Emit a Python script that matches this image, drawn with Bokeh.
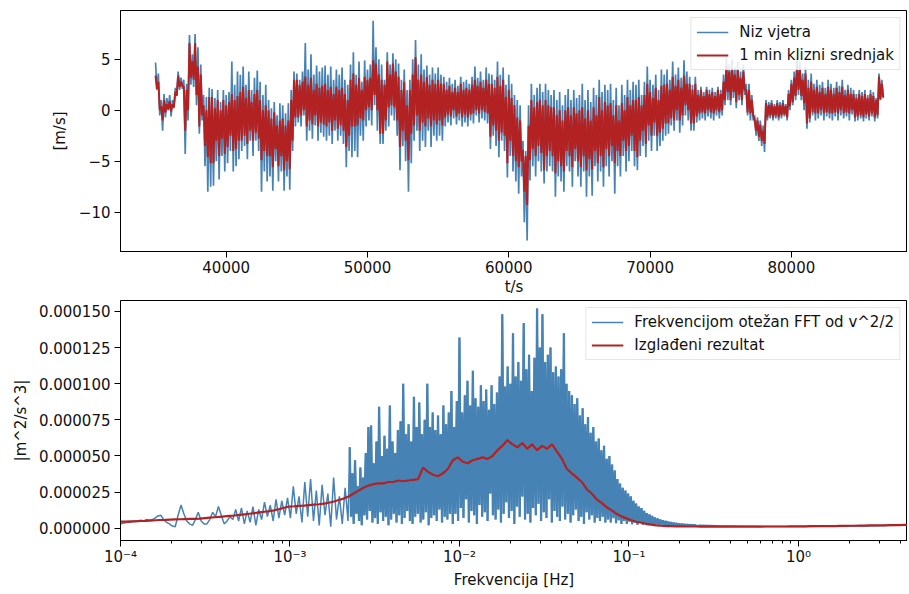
import numpy as np
from bokeh.plotting import figure
from bokeh.layouts import column
from bokeh.models import (Range1d, SingleIntervalTicker, FixedTicker,
                          CustomJSTickFormatter)
from bokeh.embed import file_html
from bokeh.resources import INLINE

# ---------------- time series (m/s), upper/lower swings every 200 s ----------------
t_start = 35000
t_step = 200
wind_hi = [
    4.7, 3.6, 1.0, 1.6, 1.2, 1.5, 1.0, 2.2, 3.8, 3.2,
    3.0, 2.6, 7.4, 5.5, 7.5, 6.2, 4.5, 1.5, 1.3, 2.2,
    2.1, 1.2, 2.0, 0.8, 2.0, 1.5, 1.8, 4.8, 2.5, 3.8,
    3.5, 4.3, 2.5, 3.8, 2.0, 3.2, 3.9, 2.8, 1.5, 2.5,
    1.0, 0.2, 0.8, -0.5, 0.7, 0.5, -0.3, 0.7, 2.0, 3.8,
    3.6, 3.0, 3.8, 6.6, 4.0, 5.5, 3.5, 4.4, 3.8, 4.2,
    4.4, 3.5, 4.3, 3.0, 4.0, 3.5, 4.2, 3.0, 2.5, 4.5,
    5.7, 3.5, 4.8, 2.8, 4.9, 4.0, 4.5, 8.8, 6.2, 5.0,
    4.5, 3.0, 5.7, 4.5, 5.6, 5.0, 4.6, 3.0, 4.0, 2.0,
    3.0, 5.0, 6.9, 4.5, 5.5, 4.0, 4.4, 3.5, 4.2, 3.6,
    4.2, 3.5, 3.3, 2.8, 3.2, 2.6, 3.0, 2.4, 3.3, 2.8,
    3.0, 2.6, 3.3, 4.3, 3.2, 3.8, 3.0, 4.2, 3.6, 3.5,
    3.0, 4.8, 3.5, 4.2, 2.5, 3.5, 2.6, 1.5, 1.0, 0.5,
    -3.0, -4.0, 0.5, 2.6, 1.5, 2.2, 2.6, 1.8, 2.6, 2.0,
    1.5, 2.0, 1.0, 1.8, 0.5, 1.5, 2.1, 1.0, 2.0, 1.2,
    1.5, 2.6, 1.0, 2.0, 0.8, 2.2, 1.5, 3.0, 1.8, 2.5,
    2.0, 2.6, 1.0, 2.2, 0.5, 2.5, 1.5, 3.0, 2.0, 2.8,
    2.5, 3.0, 1.5, 2.8, 4.3, 3.0, 2.5, 3.5, 2.0, 4.0,
    3.5, 4.0, 3.0, 4.8, 3.5, 4.2, 3.2, 4.9, 3.8, 3.3,
    2.5, 3.3, 2.0, 2.3, 1.8, 2.3, 2.0, 2.2, 1.8, 2.3,
    2.0, 3.5, 5.2, 4.5, 5.0, 4.2, 4.8, 3.8, 4.5, 2.6,
    2.6, 1.5, -0.5, -0.7, -1.0, -1.5, 1.0, 0.8, 1.0, 0.6,
    1.0, 0.8, 1.0, 0.6, 2.0, 3.0, 3.8, 5.2, 4.8, 3.6,
    4.3, 3.0, 3.6, 2.6, 3.0, 2.5, 2.8, 2.2, 3.0, 2.6,
    2.2, 2.8, 2.4, 3.0, 2.0, 2.5, 2.2, 2.0, 1.6, 2.0,
    1.8, 2.0, 1.5, 2.0, 1.8, 1.2, 3.6, 3.0,
]
wind_lo = [
    2.0, -0.5, -2.0, -0.7, 0.0, -0.6, 0.2, 1.5, 2.0, 2.1,
    -4.3, -1.0, 2.5, 2.3, 0.5, -2.3, -1.0, -5.5, -8.0, -7.5,
    -7.4, -5.0, -6.8, -4.5, -6.0, -5.2, -4.0, -6.0, -5.5, -4.8,
    -4.0, -3.5, -4.8, -3.0, -4.5, -3.0, -4.0, -8.0, -6.0, -7.0,
    -6.5, -7.9, -5.0, -7.0, -6.0, -7.9, -6.5, -7.8, -4.0, -1.6,
    -1.2, -1.6, -0.5, -3.0, -2.0, -2.8, -1.5, -3.0, -2.2, -2.6,
    -3.0, -2.5, -3.3, -2.0, -3.0, -2.5, -3.3, -5.6, -4.0, -4.6,
    -4.0, -4.6, -2.5, -3.0, -1.6, -1.0, -1.5, 0.5, -2.0, -3.3,
    -3.3, -2.0, -1.6, -0.5, -1.0, -2.5, -5.9, -3.5, -5.0, -8.0,
    -5.2, -3.0, -2.0, -4.0, -3.0, -3.6, -2.0, -3.6, -2.5, -3.0,
    -2.5, -3.0, -1.6, -1.2, -1.5, -0.8, -1.4, -1.0, -1.6, -1.2,
    -1.6, -1.0, -1.3, -0.5, -1.2, -0.8, -1.0, -1.3, -3.8, -2.5,
    -3.5, -4.6, -3.0, -4.0, -6.6, -4.5, -6.0, -7.0, -8.2, -6.5,
    -11.0, -12.8, -6.9, -5.5, -6.5, -5.0, -6.0, -7.2, -6.0, -5.5,
    -6.0, -8.5, -6.5, -7.0, -8.0, -5.5, -6.0, -7.5, -5.0, -6.5,
    -7.5, -6.0, -8.5, -6.5, -8.4, -5.5, -7.0, -6.0, -7.5, -5.5,
    -6.5, -5.0, -8.2, -5.5, -6.5, -4.5, -6.0, -5.0, -4.0, -5.5,
    -5.9, -4.5, -3.5, -4.6, -3.0, -4.0, -2.5, -4.0, -3.5, -3.0,
    -2.5, -2.3, -1.5, -2.0, -1.0, -2.2, -1.5, -0.5, -1.0, -2.0,
    -2.0, -1.2, -1.0, -0.8, -1.0, -0.6, -0.8, -1.0, -0.5, -0.8,
    -0.5, 0.5, 1.0, 0.5, 1.2, 0.2, 1.0, 0.5, 1.5, -0.5,
    -1.0, -1.0, -2.5, -3.0, -3.5, -4.1, -1.0, -0.8, -1.0, -0.8,
    -1.0, -0.8, -0.6, -1.0, 0.0, 0.5, 1.0, 1.5, 1.0, 0.0,
    -1.8, -1.2, -0.5, -1.0, -0.8, -0.5, -1.0, -0.6, -0.8, -1.0,
    -0.6, -1.0, -0.5, -0.8, -0.6, -1.0, -0.4, -1.1, -1.0, -0.8,
    -1.1, -0.8, -1.0, -0.6, -1.1, -0.8, 1.0, 1.2,
]
ma_hi = [
    3.4, 2.8, 0.4, 1.0, 0.6, 0.9, 0.6, 1.8, 3.4, 2.8,
    2.3, 2.0, 6.6, 4.8, 6.6, 4.3, 3.5, 0.5, 0.0, 1.3,
    1.3, 0.2, 1.0, 0.0, 1.0, 0.5, 0.8, 1.6, 1.0, 1.4,
    1.8, 2.3, 1.2, 2.0, 0.8, 1.6, 2.0, 1.0, 0.0, 0.5,
    0.0, -0.8, -0.2, -1.5, -1.0, -0.8, -1.5, -1.0, 1.0, 3.0,
    3.0, 2.5, 2.8, 3.3, 2.5, 3.2, 2.0, 2.6, 2.2, 2.4,
    2.6, 2.0, 2.3, 1.6, 2.3, 2.0, 2.2, 1.6, 1.0, 3.0,
    3.6, 2.5, 3.2, 2.0, 3.3, 3.0, 3.2, 4.9, 4.6, 3.5,
    3.0, 2.5, 4.8, 3.5, 4.6, 3.8, 3.3, 2.0, 2.8, 0.5,
    2.0, 3.5, 5.2, 3.0, 3.5, 2.8, 3.3, 2.5, 3.0, 2.6,
    3.0, 2.6, 2.6, 2.0, 2.4, 1.8, 2.2, 1.8, 2.6, 2.0,
    2.2, 2.0, 2.5, 3.0, 2.4, 2.8, 2.2, 3.0, 2.6, 2.6,
    2.2, 3.3, 2.4, 3.0, 1.3, 2.0, 1.2, 0.5, -0.7, -1.0,
    -3.9, -4.5, -1.5, 1.0, 0.3, 0.8, 1.0, 0.5, 1.0, 0.5,
    0.3, 0.3, -0.5, 0.0, -1.0, 0.0, 0.3, -0.5, 0.3, -0.3,
    0.0, 0.3, -0.8, 0.0, -1.0, 0.3, -0.5, 1.3, 0.0, 0.8,
    0.5, 0.7, -0.5, 0.5, -1.0, 0.7, 0.0, 1.3, 0.5, 1.0,
    1.0, 1.3, 0.5, 1.5, 2.6, 1.8, 1.2, 2.2, 1.0, 2.4,
    2.5, 2.6, 2.0, 3.3, 2.4, 3.0, 2.2, 3.4, 2.6, 2.6,
    2.0, 2.6, 1.5, 2.0, 1.4, 2.0, 1.6, 1.8, 1.4, 2.0,
    1.6, 2.8, 4.3, 3.8, 4.2, 3.5, 4.0, 3.2, 3.8, 2.0,
    2.0, 1.0, -1.0, -1.0, -1.4, -2.0, 0.7, 0.5, 0.7, 0.4,
    0.7, 0.5, 0.7, 0.4, 1.6, 2.6, 3.2, 4.3, 4.0, 3.0,
    3.6, 2.2, 2.8, 2.0, 2.3, 1.8, 2.2, 1.6, 2.3, 2.0,
    1.6, 2.2, 1.8, 2.3, 1.5, 2.0, 1.6, 1.6, 1.2, 1.6,
    1.4, 1.6, 1.2, 1.6, 1.4, 1.0, 3.3, 2.6,
]
ma_lo = [
    2.1, 0.0, -1.0, -0.2, 0.1, -0.1, 0.3, 1.4, 2.3, 2.4,
    -2.0, 0.0, 3.2, 3.0, 1.5, -1.6, -0.5, -3.5, -4.6, -5.2,
    -5.2, -3.0, -4.5, -2.8, -4.3, -3.6, -2.5, -4.0, -3.8, -3.0,
    -3.0, -2.5, -3.3, -2.0, -3.0, -2.2, -2.8, -4.9, -4.0, -4.5,
    -4.5, -5.6, -3.8, -5.5, -4.5, -5.9, -5.0, -5.8, -3.0, -0.7,
    -0.7, -0.5, 0.0, -1.6, -1.0, -1.4, -0.5, -1.6, -1.2, -1.4,
    -1.6, -1.2, -2.0, -1.0, -1.8, -1.5, -2.0, -3.6, -2.5, -1.6,
    -1.6, -1.5, -0.8, -1.0, 0.0, 0.3, 0.0, 1.5, 0.0, -2.3,
    -2.3, -1.0, 0.3, 0.5, 0.3, -1.0, -3.6, -2.0, -3.0, -4.9,
    -2.3, -1.5, -0.5, -2.0, -1.2, -1.6, -0.8, -1.6, -1.0, -1.4,
    -1.0, -1.5, -0.7, -0.4, -0.6, 0.0, -0.6, -0.3, -0.7, -0.4,
    -0.7, -0.4, -0.3, 0.0, -0.3, 0.0, -0.2, -0.3, -2.6, -1.5,
    -2.0, -3.0, -2.2, -2.5, -5.2, -3.0, -4.5, -5.0, -5.6, -5.0,
    -8.0, -9.3, -4.9, -3.8, -4.5, -3.5, -4.2, -5.9, -4.5, -4.0,
    -4.5, -6.2, -5.0, -5.5, -6.0, -4.0, -4.5, -5.6, -3.8, -5.0,
    -5.6, -4.5, -5.9, -4.8, -5.8, -4.0, -5.2, -4.5, -5.6, -3.8,
    -4.5, -3.5, -5.2, -4.0, -4.5, -3.0, -4.0, -3.5, -2.5, -4.0,
    -4.6, -3.0, -2.0, -3.3, -1.5, -2.5, -1.2, -2.5, -2.2, -1.8,
    -1.3, -1.3, -0.8, -1.0, 0.0, -1.0, -0.5, 0.5, 0.0, -1.3,
    -1.3, -0.6, -0.3, -0.2, -0.3, 0.0, -0.2, -0.3, 0.0, -0.2,
    0.0, 1.0, 1.8, 1.0, 1.8, 0.8, 1.5, 1.0, 2.0, -0.2,
    -0.3, -0.5, -2.0, -2.6, -3.0, -3.3, -0.7, -0.5, -0.7, -0.5,
    -0.7, -0.5, -0.4, -0.7, 0.4, 0.8, 1.4, 2.0, 1.4, 0.7,
    -1.3, -0.8, -0.2, -0.3, -0.3, 0.0, -0.3, -0.2, -0.3, -0.3,
    -0.2, -0.3, 0.0, -0.3, -0.2, -0.3, 0.0, -0.7, -0.6, -0.5,
    -0.7, -0.4, -0.6, -0.3, -0.7, -0.5, 1.1, 1.3,
]

# ---------------- spectrum (units of 1e-5 m^2/s^3) ----------------
spec_scale = 1e-5
spec_low_range = (1e-4, 2.2e-3)
spec_low = [
    0.3, 0.35, 0.4, 0.4, 0.45, 0.5, 0.5, 0.55, 0.5, 0.6,
    0.55, 0.6, 0.7, 0.85, 0.9, 0.6, 0.4, 0.3, 0.15, 0.1,
    0.9, 1.6, 1.0, 0.5, 0.3, 0.2, 0.6, 1.1, 0.5, 0.3,
    0.3, 0.6, 1.1, 0.8, 1.5, 0.9, 0.3, 0.5, 0.8, 0.6,
    1.3, 0.5, 1.4, 0.3, 1.2, 0.4, 1.5, 0.2, 1.3, 0.6,
    1.8, 0.8, 1.6, 0.5, 2.0, 0.7, 1.9, 0.9, 2.1, 0.7,
    2.9, 1.0, 2.2, 0.4, 3.2, 0.8, 3.4, 0.5, 2.6, 0.2,
    3.0, 0.9, 2.4, 0.1, 3.5, 0.6, 2.2, 0.3, 2.8, 0.5,
]
spec_mid_range = (2.25e-3, 0.25)
spec_peaks = [
    5.6, 3.8, 4.7, 2.9, 4.2, 3.5, 5.2, 7.0, 7.1, 4.5,
    6.0, 8.4, 5.0, 6.4, 5.5, 8.5, 6.0, 5.2, 6.8, 7.4,
    10.0, 6.5, 7.2, 6.0, 9.1, 7.0, 8.7, 6.5, 7.5, 10.0,
    7.0, 8.0, 6.8, 7.8, 6.5, 8.5, 7.2, 8.0, 9.5, 7.0,
    8.8, 13.2, 8.0, 9.2, 10.2, 8.5, 10.9, 9.0, 8.4, 9.9,
    8.8, 9.6, 8.2, 9.9, 8.6, 9.4, 10.5, 14.8, 9.8, 11.2,
    10.0, 13.5, 10.5, 11.5, 10.2, 14.2, 11.0, 12.0, 9.5, 11.8,
    15.2, 12.5, 14.8, 11.5, 12.0, 12.5, 10.8, 11.2, 10.5, 11.0,
    13.5, 10.0, 9.5, 9.2, 8.6, 9.0, 7.8, 8.3, 7.2, 7.7,
    6.6, 7.0, 6.0, 6.2, 5.4, 5.7, 4.8, 5.0, 4.4, 4.0,
    3.4, 3.1, 2.8, 2.6, 2.4, 2.2, 1.9, 1.7, 1.5, 1.4,
    1.2, 1.05, 0.95, 0.85, 0.75, 0.68, 0.6, 0.55, 0.5, 0.45,
    0.42, 0.38, 0.35, 0.32, 0.3, 0.28, 0.26, 0.25, 0.24, 0.22,
]
spec_troughs = [
    0.8, 0.3, 1.0, 0.5, 0.2, 0.9, 0.6, 1.2, 0.4, 0.7,
    0.3, 1.1, 0.5, 0.8, 0.2, 0.6, 1.0, 0.4, 0.9, 0.3,
    0.7, 1.2, 0.5, 0.3, 0.8, 1.0, 0.4, 0.6, 1.1, 0.2,
    0.7, 0.9, 0.5, 1.3, 0.4, 0.8, 0.6, 1.0, 0.3,
    1.0, 0.5, 1.4, 0.7, 2.0, 0.4, 1.2, 0.9, 0.3, 1.6,
    0.8, 1.1, 0.5, 2.4, 0.9, 0.6, 1.3, 0.4, 1.0, 1.8,
    0.7, 1.2, 0.3, 1.5, 0.8, 2.2, 0.6, 1.0, 0.4, 1.4,
    0.9, 1.7, 0.5, 1.1, 0.7, 2.0, 0.4, 1.2, 0.8, 0.5,
    1.5, 0.6, 1.0, 0.4, 0.9, 1.3, 0.5, 0.8, 0.3, 1.1,
    0.6, 0.9, 0.4, 0.7, 0.5, 0.8, 0.4,
    0.6, 0.4, 0.7, 0.35, 0.55, 0.3, 0.5, 0.3, 0.45, 0.28,
    0.4, 0.25, 0.38, 0.24, 0.33, 0.22, 0.3, 0.2, 0.28, 0.2,
    0.26, 0.18, 0.24, 0.18, 0.22, 0.17, 0.2, 0.17, 0.19, 0.16,
    0.18, 0.16, 0.17, 0.16,
]
spec_high_range = (0.26, 4.5)
spec_high = [0.2, 0.18, 0.16, 0.15, 0.14, 0.13, 0.12, 0.12, 0.12, 0.12,
             0.12, 0.13, 0.13, 0.14, 0.15, 0.16, 0.17, 0.19, 0.21, 0.23]

smooth_range = (1e-4, 4.5)
smooth = [
    0.45, 0.46, 0.47, 0.48, 0.5, 0.51, 0.53, 0.55, 0.57, 0.58,
    0.6, 0.61, 0.62, 0.63, 0.64, 0.65, 0.66, 0.7, 0.73, 0.76,
    0.79, 0.82, 0.85, 0.88, 0.92, 0.96, 1.0, 1.05, 1.1, 1.14,
    1.18, 1.24, 1.32, 1.42, 1.5, 1.52, 1.55, 1.57, 1.6, 1.63,
    1.66, 1.7, 1.76, 1.85, 1.95, 2.05, 2.2, 2.4, 2.6, 2.8,
    2.95, 3.05, 3.1, 3.1, 3.2, 3.2, 3.3, 3.25, 3.3, 3.35,
    3.4, 4.2, 3.9, 3.7, 3.6, 3.8, 4.1, 4.7, 4.9, 4.6,
    4.5, 4.7, 4.8, 4.9, 4.8, 5.0, 5.4, 5.7, 6.1, 5.8,
    5.6, 5.9, 5.5, 5.8, 5.4, 5.7, 5.5, 5.8, 5.3, 4.8,
    4.1, 3.8, 3.5, 3.2, 2.7, 2.4, 2.0, 1.75, 1.45, 1.25,
    1.0, 0.82, 0.68, 0.55, 0.45, 0.38, 0.3, 0.25, 0.2, 0.17,
    0.15, 0.14, 0.13, 0.13, 0.12, 0.12, 0.12, 0.11, 0.11, 0.11,
    0.11, 0.11, 0.11, 0.11, 0.11, 0.11, 0.11, 0.11, 0.11, 0.11,
    0.12, 0.12, 0.12, 0.12, 0.12, 0.13, 0.13, 0.13, 0.13, 0.14,
    0.14, 0.14, 0.15, 0.15, 0.15, 0.16, 0.16, 0.17, 0.17, 0.18,
    0.18, 0.19, 0.19, 0.2, 0.2, 0.21, 0.21, 0.22, 0.23, 0.24,
]

freq_ticks = [1e-4, 1e-3, 1e-2, 1e-1, 1e0]


def interleave(a, b):
    n = min(len(a), len(b))
    out = np.empty(2 * n)
    out[0::2] = a[:n]
    out[1::2] = b[:n]
    return out


# ---------------- build series ----------------
wind = interleave(wind_hi, wind_lo)
wind_ma = interleave(ma_hi, ma_lo)
t_blue = t_start + (t_step / 2) * np.arange(len(wind))
t_red = t_start + (t_step / 2) * np.arange(len(wind_ma))

mid = interleave(spec_peaks, spec_troughs)
f_low = np.geomspace(*spec_low_range, len(spec_low))
f_mid = np.geomspace(*spec_mid_range, len(mid))
f_high = np.geomspace(*spec_high_range, len(spec_high))
f_blue = np.concatenate([f_low, f_mid, f_high])
s_blue = np.concatenate([spec_low, mid, spec_high]) * spec_scale
f_red = np.geomspace(*smooth_range, len(smooth))
s_red = np.array(smooth) * spec_scale

BLUE = "#4682b4"
RED = "#b22222"
FONT = "DejaVu Sans"
TXT = "#111111"
FS = "15px"


def style(p):
    p.xgrid.visible = False
    p.ygrid.visible = False
    p.outline_line_color = "black"
    p.outline_line_alpha = 1
    p.outline_line_width = 1
    for ax in (p.xaxis[0], p.yaxis[0]):
        ax.axis_line_color = "black"
        ax.major_tick_line_color = "black"
        ax.minor_tick_line_color = "black"
        ax.major_tick_out = 6
        ax.major_tick_in = 0
        ax.minor_tick_out = 3
        ax.minor_tick_in = 0
        ax.major_label_text_font = FONT
        ax.major_label_text_font_size = FS
        ax.major_label_text_color = TXT
        ax.axis_label_text_font = FONT
        ax.axis_label_text_font_size = FS
        ax.axis_label_text_font_style = "normal"
        ax.axis_label_text_color = TXT
        ax.major_label_standoff = 4


def style_legend(p):
    lg = p.legend[0]
    lg.location = "top_right"
    lg.margin = 7
    lg.padding = 5
    lg.spacing = 5
    lg.label_text_font = FONT
    lg.label_text_font_size = FS
    lg.label_text_color = TXT
    lg.glyph_width = 32
    lg.glyph_height = 18
    lg.label_height = 18
    lg.label_standoff = 11
    lg.border_line_color = "#cccccc"
    lg.border_line_width = 1
    lg.background_fill_alpha = 0.85


W = 907

# ---------------- top figure ----------------
p1 = figure(width=W, height=300, output_backend="svg", toolbar_location=None,
            x_range=Range1d(32520, 88217), y_range=Range1d(-13.87, 9.8),
            min_border_left=120, min_border_right=0, min_border_top=10,
            min_border_bottom=49)
p1.line(t_blue, wind, color=BLUE, line_width=1.7, legend_label="Niz vjetra")
p1.line(t_red, wind_ma, color=RED, line_width=2.0, legend_label="1 min klizni srednjak")
style(p1)
p1.xaxis.ticker = SingleIntervalTicker(interval=10000, num_minor_ticks=0)
p1.yaxis.ticker = SingleIntervalTicker(interval=5, num_minor_ticks=0)
p1.yaxis.formatter = CustomJSTickFormatter(
    code="return tick < 0 ? '\u2212' + Math.abs(tick) : String(tick);")
p1.xaxis.axis_label = "t/s"
p1.yaxis.axis_label = "[m/s]"
p1.xaxis.major_label_standoff = 3
p1.xaxis.axis_label_standoff = 2
p1.yaxis.axis_label_standoff = 7
style_legend(p1)

# ---------------- bottom figure ----------------
p2 = figure(width=W, height=292, output_backend="svg", toolbar_location=None,
            x_axis_type="log", x_range=Range1d(1e-4, 4.4),
            y_range=Range1d(-8.5e-6, 1.576e-4),
            min_border_left=120, min_border_right=0, min_border_top=0,
            min_border_bottom=52)
p2.line(f_blue, s_blue, color=BLUE, line_width=1.5,
        legend_label="Frekvencijom otežan FFT od v^2/2")
p2.line(f_mid, mid * spec_scale, color=BLUE, line_width=2.3)
p2.line(f_red, s_red, color=RED, line_width=2.2, legend_label="Izglađeni rezultat")
style(p2)
minor = [m * d for d in freq_ticks for m in range(2, 10)]
p2.xaxis.ticker = FixedTicker(ticks=freq_ticks, minor_ticks=minor)
p2.xaxis.formatter = CustomJSTickFormatter(code="""
const sup = {'-':'\u207b','0':'\u2070','1':'\u00b9','2':'\u00b2','3':'\u00b3',
             '4':'\u2074','5':'\u2075','6':'\u2076','7':'\u2077','8':'\u2078','9':'\u2079'};
const e = Math.round(Math.log10(tick));
return '10' + String(e).split('').map(c => sup[c]).join('');
""")
p2.yaxis.ticker = SingleIntervalTicker(interval=2.5e-5, num_minor_ticks=0)
p2.yaxis.formatter = CustomJSTickFormatter(
    code="return Math.abs(tick) < 1e-12 ? '0.000000' : tick.toFixed(6);")
p2.xaxis.axis_label = "Frekvencija [Hz]"
p2.yaxis.axis_label = "|m^2/s^3|"
p2.xaxis.major_label_standoff = 1
p2.xaxis.axis_label_standoff = 2
p2.yaxis.axis_label_standoff = 6
style_legend(p2)

layout = column(p1, p2, spacing=0)
open("out.html", "w").write(file_html(layout, INLINE))
